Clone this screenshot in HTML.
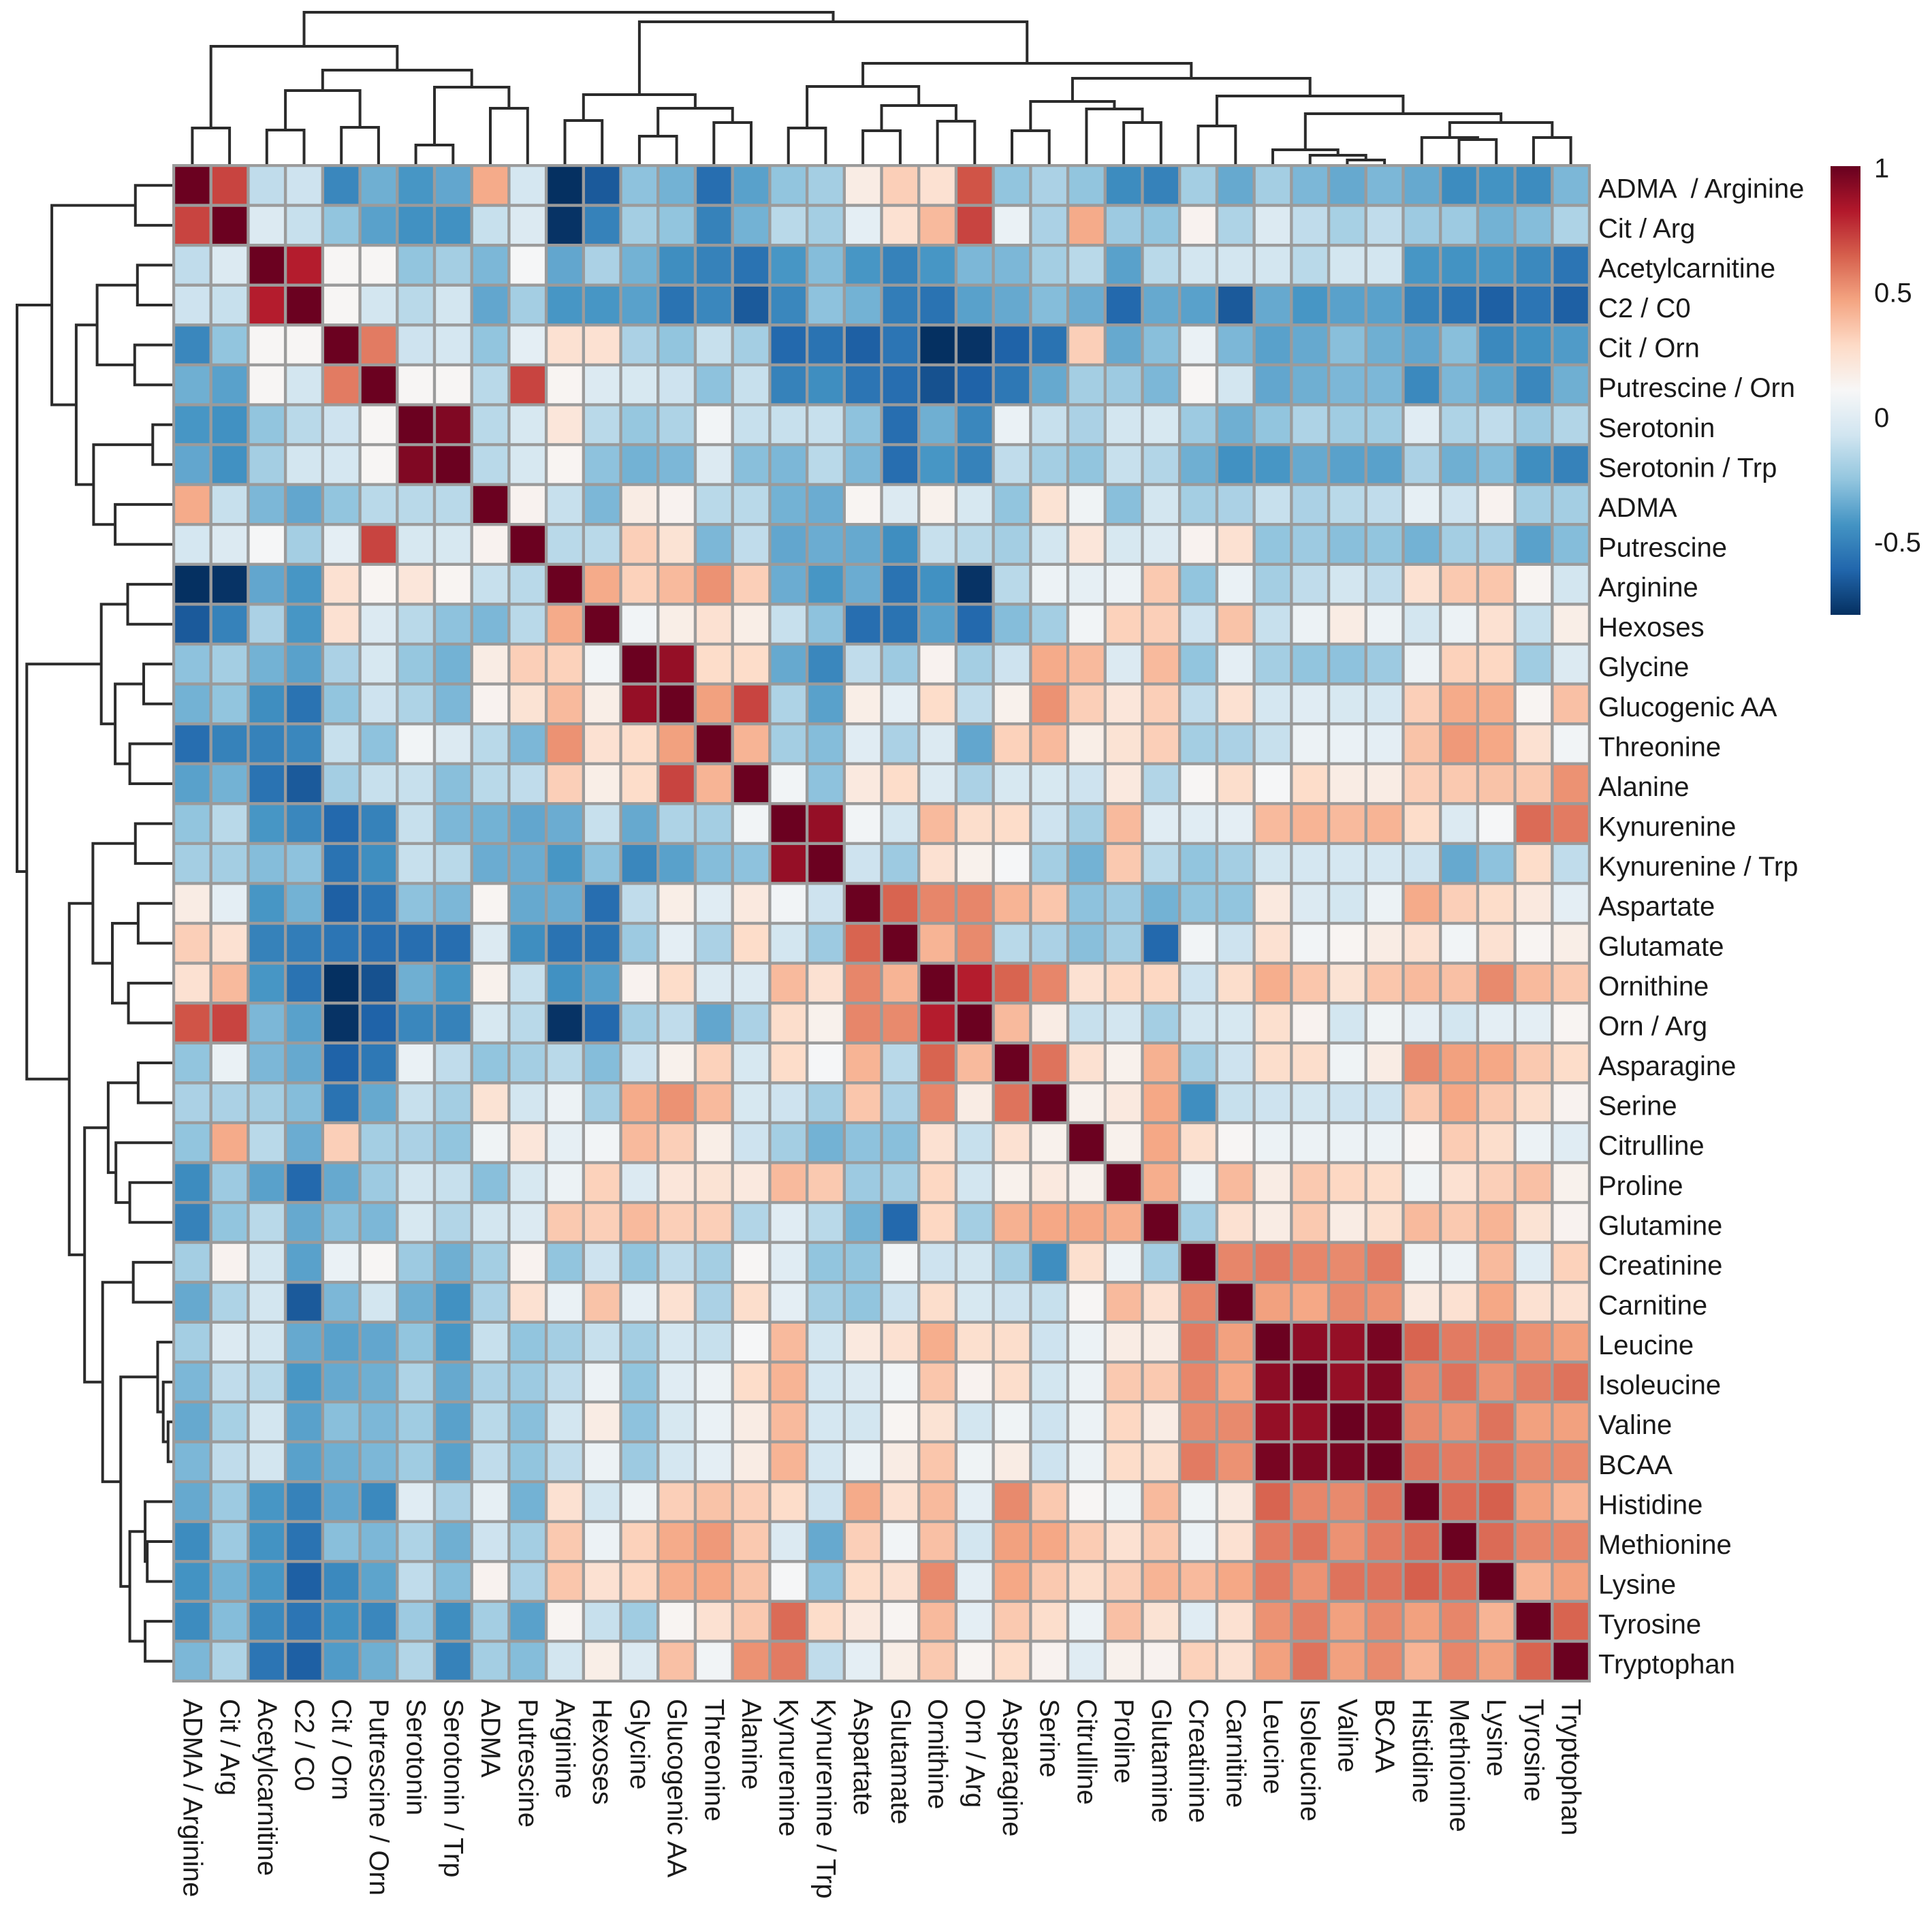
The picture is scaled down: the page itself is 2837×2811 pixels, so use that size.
<!DOCTYPE html>
<html>
<head>
<meta charset="utf-8">
<style>
  html, body { margin:0; padding:0; background:#ffffff; }
  body { width:2837px; height:2811px; overflow:hidden; }
  svg { display:block; }
  text { font-family: "Liberation Sans", Arial, sans-serif; fill:#1a1a1a; }
</style>
</head>
<body>
<svg id="chart" width="2837" height="2811" viewBox="0 0 2837 2811" xmlns="http://www.w3.org/2000/svg">
  <g id="left-dendro"></g>
  <g id="top-dendro"></g>
  <g id="cells"></g>
  <g id="row-labels"></g>
  <g id="col-labels"></g>
  <g id="legend"></g>
</svg>
<script>
const labels = ["ADMA  / Arginine","Cit / Arg","Acetylcarnitine","C2 / C0","Cit / Orn","Putrescine / Orn","Serotonin","Serotonin / Trp","ADMA","Putrescine","Arginine","Hexoses","Glycine","Glucogenic AA","Threonine","Alanine","Kynurenine","Kynurenine / Trp","Aspartate","Glutamate","Ornithine","Orn / Arg","Asparagine","Serine","Citrulline","Proline","Glutamine","Creatinine","Carnitine","Leucine","Isoleucine","Valine","BCAA","Histidine","Methionine","Lysine","Tyrosine","Tryptophan"];
const colLabels = ["ADMA / Arginine","Cit / Arg","Acetylcarnitine","C2 / C0","Cit / Orn","Putrescine / Orn","Serotonin","Serotonin / Trp","ADMA","Putrescine","Arginine","Hexoses","Glycine","Glucogenic AA","Threonine","Alanine","Kynurenine","Kynurenine / Trp","Aspartate","Glutamate","Ornithine","Orn / Arg","Asparagine","Serine","Citrulline","Proline","Glutamine","Creatinine","Carnitine","Leucine","Isoleucine","Valine","BCAA","Histidine","Methionine","Lysine","Tyrosine","Tryptophan"];

// upper-triangle correlation values: row i holds columns i..37
const upperRows = [
[1,.72,-.12,-.08,-.48,-.33,-.42,-.36,.45,-.05,-.8,-.65,-.26,-.32,-.58,-.38,-.25,-.2,.18,.33,.25,.68,-.25,-.18,-.25,-.46,-.5,-.2,-.35,-.2,-.3,-.35,-.3,-.35,-.46,-.43,-.46,-.3],
[1,-.02,-.1,-.25,-.38,-.44,-.44,-.1,-.02,-.78,-.5,-.2,-.25,-.5,-.32,-.14,-.2,.02,.25,.4,.72,.05,-.18,.45,-.22,-.25,.14,-.17,-.02,-.12,-.19,-.12,-.22,-.22,-.32,-.28,-.17],
[1,.82,.12,.12,-.25,-.2,-.3,.1,-.36,-.18,-.32,-.45,-.5,-.56,-.42,-.28,-.42,-.5,-.42,-.3,-.3,-.2,-.14,-.38,-.14,-.06,-.06,-.06,-.14,-.06,-.06,-.42,-.43,-.42,-.47,-.55],
[1,.12,-.06,-.14,-.06,-.36,-.2,-.42,-.42,-.38,-.56,-.48,-.65,-.48,-.26,-.32,-.52,-.56,-.38,-.35,-.28,-.34,-.6,-.35,-.38,-.65,-.35,-.42,-.38,-.38,-.5,-.56,-.63,-.55,-.63],
[1,.58,-.08,-.05,-.25,.02,.25,.25,-.18,-.25,-.1,-.2,-.6,-.56,-.63,-.55,-.8,-.78,-.62,-.56,.33,-.35,-.27,.05,-.3,-.38,-.35,-.27,-.33,-.36,-.27,-.47,-.44,-.4],
[1,.12,.12,-.14,.72,.13,-.02,-.04,-.08,-.26,-.1,-.5,-.45,-.55,-.58,-.68,-.62,-.54,-.35,-.2,-.22,-.3,.12,-.06,-.36,-.33,-.3,-.3,-.47,-.3,-.37,-.48,-.33],
[1,.95,-.14,-.04,.22,-.14,-.24,-.17,.08,-.1,-.1,-.1,-.26,-.58,-.33,-.48,.05,-.1,-.18,-.06,-.04,-.22,-.33,-.25,-.17,-.21,-.21,0,-.17,-.12,-.22,-.16],
[1,-.14,-.04,.13,-.26,-.32,-.3,-.02,-.27,-.3,-.14,-.3,-.58,-.42,-.5,-.12,-.2,-.25,-.1,-.16,-.33,-.44,-.42,-.35,-.38,-.38,-.18,-.33,-.28,-.45,-.5],
[1,.14,-.1,-.3,.18,.14,-.14,-.14,-.32,-.34,.13,-.02,.15,-.04,-.25,.24,.07,-.27,-.06,-.2,-.18,-.1,-.18,-.14,-.12,.03,-.08,.14,-.2,-.2],
[1,-.14,-.14,.33,.24,-.3,-.12,-.36,-.34,-.35,-.45,-.1,-.14,-.2,-.06,.22,-.04,-.02,.14,.25,-.25,-.22,-.27,-.25,-.32,-.2,-.18,-.38,-.28],
[1,.45,.32,.4,.52,.33,-.34,-.42,-.34,-.56,-.44,-.78,-.14,.06,.03,.06,.35,-.25,.05,-.2,-.12,-.06,-.12,.25,.35,.36,.13,-.06],
[1,.08,.17,.25,.17,-.1,-.26,-.58,-.56,-.38,-.6,-.28,-.2,.08,.32,.33,-.08,.37,-.1,.06,.18,.06,-.06,.06,.25,-.1,.17],
[1,.9,.28,.28,-.35,-.48,-.12,-.22,.14,-.2,-.08,.45,.4,-.02,.4,-.25,.02,-.2,-.25,-.26,-.22,.06,.32,.3,-.21,-.02],
[1,.48,.72,-.17,-.38,.17,.02,.28,-.12,.15,.52,.33,.22,.33,-.12,.25,-.05,0,-.04,-.05,.33,.45,.44,.13,.38],
[1,.42,-.2,-.28,0,-.18,-.02,-.36,.32,.4,.17,.24,.33,-.2,-.18,-.1,.06,.05,.02,.37,.5,.46,.25,.08],
[1,.08,-.26,.2,.28,-.02,-.18,-.04,-.04,-.08,.2,-.16,.12,.27,.1,.28,.18,.18,.33,.35,.37,.35,.52],
[1,.9,.08,-.06,.4,.27,.28,-.08,-.2,.4,0,0,.02,.4,.42,.4,.42,.28,-.02,.1,.62,.58],
[1,-.08,-.22,.25,.15,.1,-.2,-.32,.35,-.14,-.25,-.2,-.06,-.05,-.05,-.05,-.08,-.35,-.26,.28,-.12],
[1,.64,.55,.55,.42,.36,-.26,-.22,-.32,-.25,-.25,.2,-.02,-.06,.06,.45,.33,.28,.2,.02],
[1,.42,.54,-.14,-.18,-.27,-.2,-.6,.08,-.08,.25,.08,.13,.18,.25,.08,.25,.13,.17],
[1,.82,.64,.55,.25,.3,.3,-.08,.27,.44,.36,.24,.36,.4,.38,.54,.4,.35],
[1,.4,.18,-.1,-.06,-.2,-.06,-.04,.26,.14,-.06,.07,.02,-.06,.02,.02,.13],
[1,.6,.25,.15,.43,-.2,-.08,.27,.27,.07,.18,.54,.48,.46,.35,.28],
[1,.15,.2,.46,-.45,-.1,-.08,-.06,-.08,-.08,.35,.46,.35,.27,.14],
[1,.15,.46,.26,.12,.06,.06,.06,.06,.12,.34,.27,.06,0],
[1,.44,.06,.4,.18,.35,.3,.28,.07,.25,.33,.38,.15],
[1,-.2,.25,.18,.35,.18,.26,.4,.35,.42,.24,.14],
[1,.55,.58,.55,.54,.58,.07,.06,.4,0,.32],
[1,.48,.46,.54,.52,.2,.25,.46,.25,.25],
[1,.92,.9,.97,.64,.58,.58,.52,.48],
[1,.9,.95,.55,.6,.52,.57,.6],
[1,.97,.54,.52,.6,.48,.48],
[1,.6,.58,.6,.54,.54],
[1,.62,.65,.48,.42],
[1,.62,.55,.55],
[1,.42,.48],
[1,.64],
[1]
];

// dendrogram merges: [childA, childB, height]
const merges = [
 ["L0","L1",188],["L2","L3",191],["L4","L5",187],["L6","L7",213],["L8","L9",159],
 ["N1","N2",133],["N3","N4",128],["N5","N6",103],["N0","N7",68],
 ["L10","L11",177],["L12","L13",200],["L14","L15",180],["N10","N11",159],["N9","N12",139],
 ["L16","L17",188],["L18","L19",192],["L20","L21",178],["N15","N16",155],["N14","N17",127],
 ["L22","L23",192],["L25","L26",180],["L24","N20",160],["N19","N21",149],
 ["L27","L28",185],["L31","L32",235],["L30","N24",228],["L29","N25",220],
 ["L34","L35",205],["L33","N27",202],["L36","L37",202],["N28","N29",180],["N26","N30",167],
 ["N23","N31",141],["N22","N32",115],["N18","N33",93],["N13","N34",32],["N8","N35",18]
];

const legendTicks = [1, 0.5, 0, -0.5];

const NS = "http://www.w3.org/2000/svg";
const N = labels.length;
const X0 = 255, X1 = 2334, Y0 = 243, Y1 = 2469;
const cw = (X1 - X0) / N, ch = (Y1 - Y0) / N;
const VMIN = -0.79, VMAX = 1.01;
const stops = ["#053061","#2166ac","#4393c3","#92c5de","#d1e5f0","#f7f7f7","#fddbc7","#f4a582","#d6604d","#b2182b","#67001f"];

function hex2rgb(h){ return [parseInt(h.slice(1,3),16),parseInt(h.slice(3,5),16),parseInt(h.slice(5,7),16)]; }
function colorOf(v){
  let t = (v - VMIN) / (VMAX - VMIN);
  t = Math.max(0, Math.min(1, t));
  const p = t * (stops.length - 1);
  const i = Math.min(stops.length - 2, Math.floor(p));
  const f = p - i;
  const a = hex2rgb(stops[i]), b = hex2rgb(stops[i+1]);
  const c = a.map((x,k)=>Math.round(x + (b[k]-x)*f));
  return "rgb(" + c.join(",") + ")";
}
function xOf(c){ return X0 + c * cw; }
function yOf(r){ return Y0 + r * ch; }

const matrix = [];
for (let i = 0; i < N; i++) matrix.push(new Array(N).fill(0));
for (let i = 0; i < N; i++) {
  for (let k = 0; k < upperRows[i].length; k++) {
    const j = i + k;
    matrix[i][j] = upperRows[i][k];
    matrix[j][i] = upperRows[i][k];
  }
}

const cellsG = document.getElementById("cells");
const bg = document.createElementNS(NS, "rect");
bg.setAttribute("x", X0 - 2); bg.setAttribute("y", Y0 - 2);
bg.setAttribute("width", X1 - X0 + 4); bg.setAttribute("height", Y1 - Y0 + 4);
bg.setAttribute("fill", "#9b9b9b");


cellsG.appendChild(bg);
const gap = 2.2;
for (let r = 0; r < N; r++) {
  for (let c = 0; c < N; c++) {
    const rect = document.createElementNS(NS, "rect");
    rect.setAttribute("x", (xOf(c) + gap).toFixed(2));
    rect.setAttribute("y", (yOf(r) + gap).toFixed(2));
    rect.setAttribute("width", (cw - 2*gap).toFixed(2));
    rect.setAttribute("height", (ch - 2*gap).toFixed(2));
    rect.setAttribute("fill", colorOf(matrix[r][c]));
    
    
    cellsG.appendChild(rect);
  }
}

const rowG = document.getElementById("row-labels");
for (let r = 0; r < N; r++) {
  const t = document.createElementNS(NS, "text");
  t.setAttribute("x", 2347);
  t.setAttribute("y", (yOf(r) + ch/2 + 5).toFixed(2));
  t.setAttribute("dominant-baseline", "central");
  t.setAttribute("font-size", "40");
  t.style.whiteSpace = "pre";
  t.textContent = labels[r];
  
  
  rowG.appendChild(t);
}

const colG = document.getElementById("col-labels");
for (let c = 0; c < N; c++) {
  const t = document.createElementNS(NS, "text");
  const cx = xOf(c) + cw/2;
  t.setAttribute("transform", "translate(" + cx.toFixed(2) + ",2495) rotate(90)");
  t.setAttribute("x", 0); t.setAttribute("y", 0);
  t.setAttribute("dominant-baseline", "central");
  t.setAttribute("font-size", "40");
  t.textContent = colLabels[c];
  
  
  colG.appendChild(t);
}

const nodes = [];
function getNode(ref){
  if (ref[0] === "L") { const i = +ref.slice(1); return {pos: i + 0.5, h: 243}; }
  return nodes[+ref.slice(1)];
}
merges.forEach(m => {
  const a = getNode(m[0]), b = getNode(m[1]);
  nodes.push({a: a, b: b, pos: (a.pos + b.pos)/2, h: m[2]});
});
const topG = document.getElementById("top-dendro");
const leftG = document.getElementById("left-dendro");
function leftX(h){ return 25 + (h - 18) * (230 / 225); }
function addPath(g, d, name){
  const p = document.createElementNS(NS, "path");
  p.setAttribute("d", d);
  p.setAttribute("fill", "none");
  p.setAttribute("stroke", "#2b2b2b");
  p.setAttribute("stroke-width", "4");
  
  
  g.appendChild(p);
}
nodes.forEach(n => {
  const ax = X0 + n.a.pos * cw, bx = X0 + n.b.pos * cw;
  addPath(topG, "M" + ax.toFixed(1) + "," + n.a.h + " V" + n.h + " H" + bx.toFixed(1) + " V" + n.b.h, "column-dendrogram-branch");
  const ay = Y0 + n.a.pos * ch, by = Y0 + n.b.pos * ch;
  addPath(leftG, "M" + leftX(n.a.h).toFixed(1) + "," + ay.toFixed(1) + " H" + leftX(n.h).toFixed(1) + " V" + by.toFixed(1) + " H" + leftX(n.b.h).toFixed(1), "row-dendrogram-branch");
});

const legG = document.getElementById("legend");
const LX = 2688, LW = 44, LY0 = 244, LY1 = 903;
function legY(v){ return LY0 + (VMAX - v) / (VMAX - VMIN) * (LY1 - LY0); }
const defs = document.createElementNS(NS, "defs");
const grad = document.createElementNS(NS, "linearGradient");
grad.setAttribute("id", "legGrad");
grad.setAttribute("x1", "0"); grad.setAttribute("y1", "0"); grad.setAttribute("x2", "0"); grad.setAttribute("y2", "1");
for (let k = 0; k <= 20; k++) {
  const v = VMAX - (VMAX - VMIN) * k / 20;
  const s = document.createElementNS(NS, "stop");
  s.setAttribute("offset", (k/20).toFixed(3));
  s.setAttribute("stop-color", colorOf(v));
  grad.appendChild(s);
}
defs.appendChild(grad);
legG.appendChild(defs);
const bar = document.createElementNS(NS, "rect");
bar.setAttribute("x", LX); bar.setAttribute("y", LY0);
bar.setAttribute("width", LW); bar.setAttribute("height", LY1 - LY0);
bar.setAttribute("fill", "url(#legGrad)");


legG.appendChild(bar);
legendTicks.forEach(v => {
  const t = document.createElementNS(NS, "text");
  t.setAttribute("x", 2752);
  t.setAttribute("y", legY(v).toFixed(1));
  t.setAttribute("dominant-baseline", "central");
  t.setAttribute("font-size", "40");
  t.textContent = String(v);
  
  
  legG.appendChild(t);
});
</script>
</body>
</html>
